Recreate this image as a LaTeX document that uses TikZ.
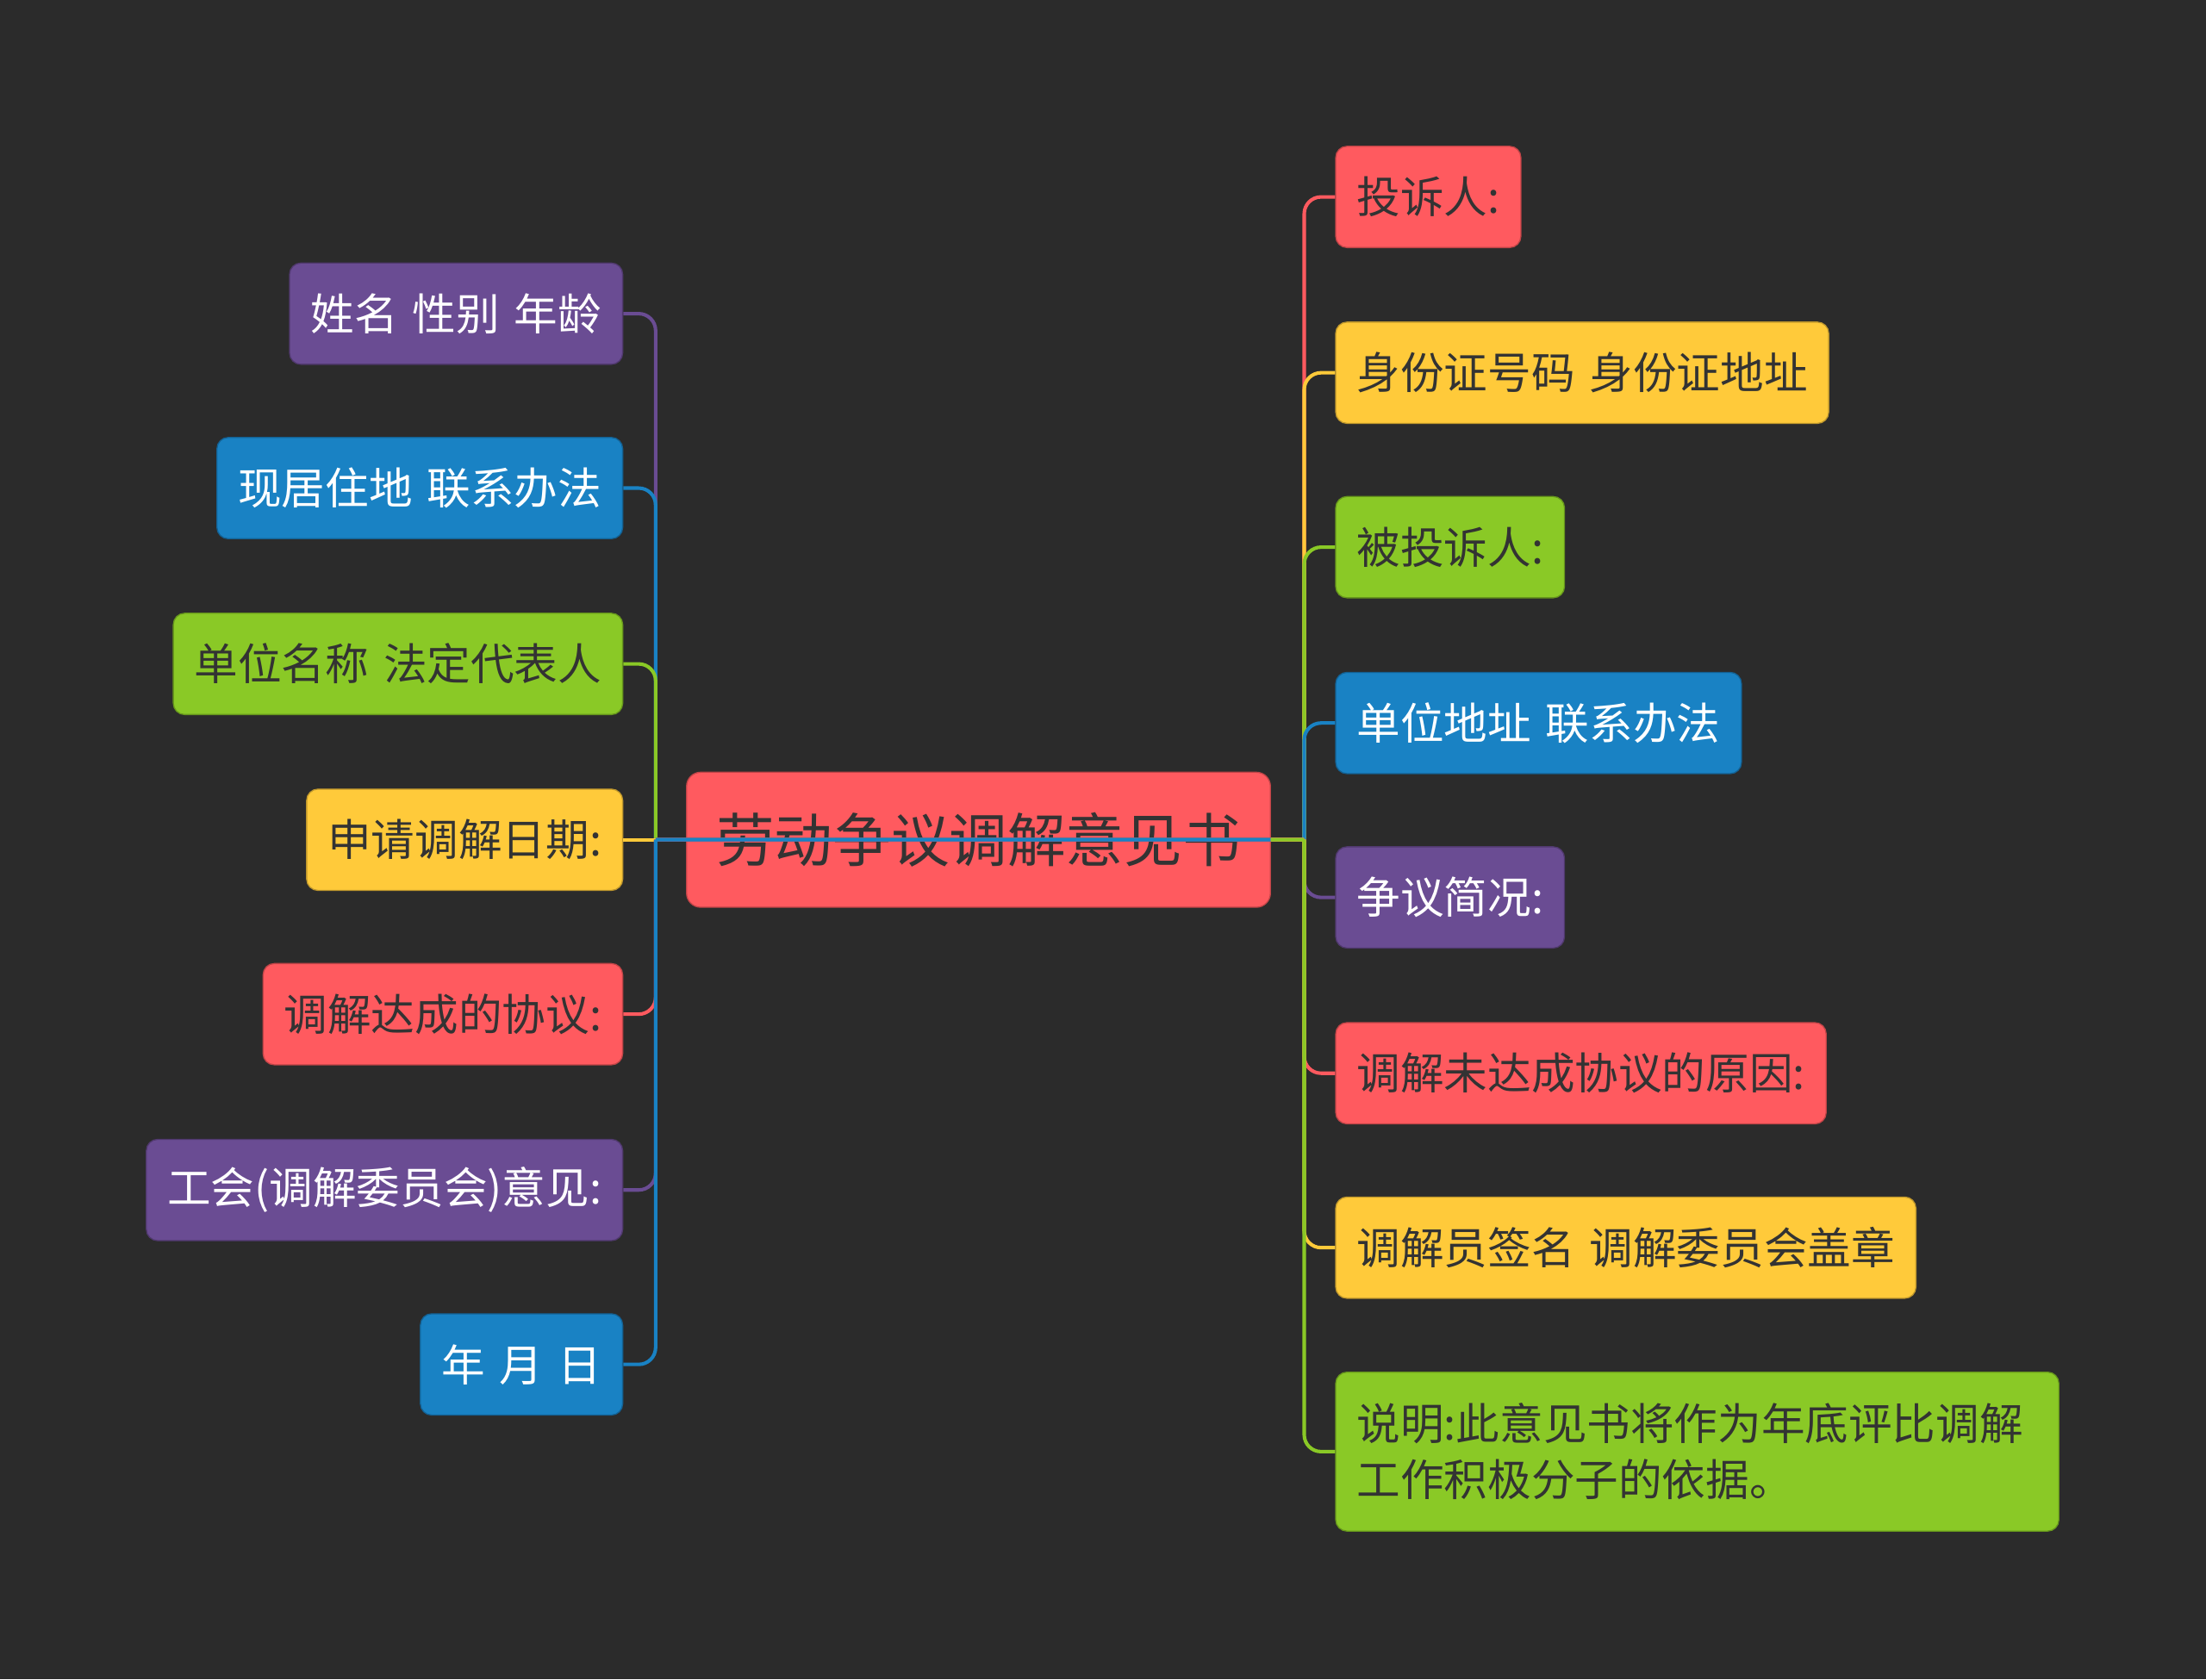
\documentclass[tikz,border=0pt]{standalone}
\usepackage{fontspec}
\setmainfont{Noto Sans CJK SC}
\usepackage{tikz}
\usetikzlibrary{positioning}
\definecolor{mmbg}{HTML}{2B2B2B}
\definecolor{mmdark}{HTML}{333333}
\definecolor{mmred}{HTML}{FF5A5F}
\definecolor{mmyellow}{HTML}{FFCA3A}
\definecolor{mmgreen}{HTML}{8AC926}
\definecolor{mmblue}{HTML}{1982C4}
\definecolor{mmpurple}{HTML}{6A4C93}
\newcommand{\leaffont}{\fontsize{15.5pt}{20pt}\selectfont\spaceskip=5.2pt\relax}
\begin{document}
\begin{tikzpicture}[
  x=0.5pt, y=-0.5pt,
  central/.style={draw=mmred!75!black, line width=0.4pt, fill=mmred, text=mmdark,
                  rounded corners=5pt, minimum width=207.5pt, minimum height=48pt,
                  font=\fontsize{20.7pt}{24pt}\selectfont},
  leaf/.style={line width=0.4pt, rounded corners=4pt, minimum height=36pt,
               inner xsep=7.5pt, font=\leaffont},
  redleaf/.style={leaf, fill=mmred, draw=mmred!75!black, text=mmdark},
  yellowleaf/.style={leaf, fill=mmyellow, draw=mmyellow!75!black, text=mmdark},
  greenleaf/.style={leaf, fill=mmgreen, draw=mmgreen!75!black, text=mmdark},
  blueleaf/.style={leaf, fill=mmblue, draw=mmblue!75!black, text=white},
  purpleleaf/.style={leaf, fill=mmpurple, draw=mmpurple!75!black, text=white},
  branch/.style={line width=1.25pt, rounded corners=6pt},
]
  \fill[mmbg] (0,0) rectangle (1568,1194);

  % Central topic.
  \node[central] (title) at (695.5,597) {劳动争议调解意见书};
  \coordinate (ltrunk) at (466,597);
  \coordinate (rtrunk) at (927,597);

  % Left-hand topics.
  \node[purpleleaf, anchor=east] (name) at (443,223) {姓名 性别 年龄};
  \node[blueleaf, anchor=east] (home) at (443,347) {现居住地 联系办法};
  \node[greenleaf, anchor=east] (unit) at (443,472) {单位名称 法定代表人};
  \node[yellowleaf, anchor=east] (date) at (443,597) {申请调解日期:};
  \node[redleaf, anchor=east] (agreed) at (443,721) {调解达成的协议:};
  \node[purpleleaf, anchor=east] (union) at (443,846) {工会(调解委员会)意见:};
  \node[blueleaf, anchor=east] (day) at (443,970) {年 月 日};

  % Right-hand topics.
  \node[redleaf, anchor=west] (plaintiff) at (949,140) {投诉人:};
  \node[yellowleaf, anchor=west] (idcard) at (949,265) {身份证号码 身份证地址};
  \node[greenleaf, anchor=west] (defendant) at (949,389) {被投诉人:};
  \node[blueleaf, anchor=west] (address) at (949,514) {单位地址 联系办法};
  \node[purpleleaf, anchor=west] (summary) at (949,638) {争议简况:};
  \node[redleaf, anchor=west] (reason) at (949,763) {调解未达成协议的原因:};
  \node[yellowleaf, anchor=west] (sign) at (949,887) {调解员签名 调解委员会盖章};
  \node[greenleaf, anchor=west, text width=242pt, align=left, minimum height=56.5pt]
    (note) at (949,1032) {说明:此意见书将作为年底评比调解\\工作积极分子的依据。};

  % Branches, drawn in order so later ones cover the shared trunk.
  \draw[branch, mmpurple] (title.east) -- (ltrunk) (ltrunk) |- (name.east);
  \draw[branch, mmblue] (title.east) -- (ltrunk) (ltrunk) |- (home.east);
  \draw[branch, mmgreen] (title.east) -- (ltrunk) (ltrunk) |- (unit.east);
  \draw[branch, mmyellow] (title.east) -- (date.east);
  \draw[branch, mmred] (title.east) -- (ltrunk) (ltrunk) |- (agreed.east);
  \draw[branch, mmpurple] (title.east) -- (ltrunk) (ltrunk) |- (union.east);
  \draw[branch, mmblue] (title.east) -- (ltrunk) (ltrunk) |- (day.east);

  \draw[branch, mmred] (title.east) -- (rtrunk) (rtrunk) |- (plaintiff.west);
  \draw[branch, mmyellow] (title.east) -- (rtrunk) (rtrunk) |- (idcard.west);
  \draw[branch, mmgreen] (title.east) -- (rtrunk) (rtrunk) |- (defendant.west);
  \draw[branch, mmblue] (title.east) -- (rtrunk) (rtrunk) |- (address.west);
  \draw[branch, mmpurple] (title.east) -- (rtrunk) (rtrunk) |- (summary.west);
  \draw[branch, mmred] (title.east) -- (rtrunk) (rtrunk) |- (reason.west);
  \draw[branch, mmyellow] (title.east) -- (rtrunk) (rtrunk) |- (sign.west);
  \draw[branch, mmgreen] (title.east) -- (rtrunk) (rtrunk) |- (note.west);

\end{tikzpicture}
\end{document}
